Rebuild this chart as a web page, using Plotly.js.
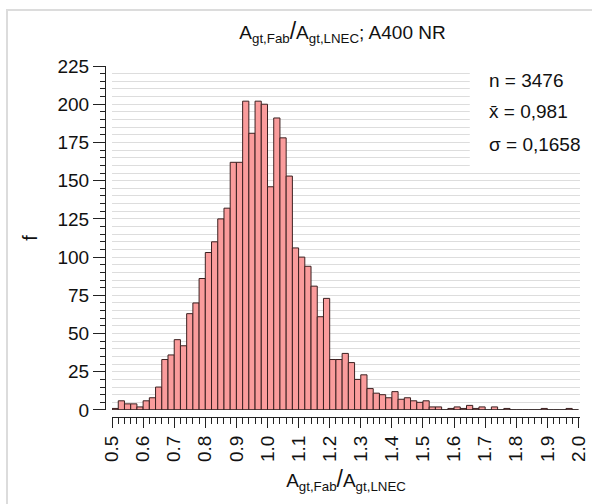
<!DOCTYPE html>
<html>
<head>
<meta charset="utf-8">
<script src="https://cdn.plot.ly/plotly-3.0.1.min.js"></script>
<style>
  html, body { margin: 0; padding: 0; background: #ffffff; }
  #chart { width: 592px; height: 504px; }
  #frame { position: absolute; left: 6px; top: 9px; width: 600px; height: 510px;
           border-left: 2px solid #dcdcdc; border-top: 2px solid #dcdcdc; pointer-events: none; }
</style>
</head>
<body>
<div id="chart"></div>
<div id="frame"></div>
<script>
// ---- data ----
const binStart = 0.5;
const binWidth = 0.02;
const counts = [
  1, 6, 4, 4, 2, 6, 8, 15, 33, 36,
  46, 42, 63, 70, 86, 103, 110, 125, 132, 162,
  162, 202, 181, 202, 200, 146, 191, 178, 153, 106,
  100, 94, 81, 61, 73, 33, 33, 37, 31, 20,
  23, 14, 11, 10, 8, 12, 7, 8, 6, 5,
  6, 2, 2, 0, 1, 2, 1, 3, 1, 2,
  0, 2, 0, 1, 0, 0, 0, 0, 0, 1,
  0, 0, 0, 1, 0
];
const statLabels = ['n = 3476', 'x\u0304 = 0,981', '\u03c3 = 0,1658'];
const titleText = 'A<sub>gt,Fab</sub><span style="font-size:23px">/</span>A<sub>gt,LNEC</sub>; A400 NR';
const xTitleText = 'A<sub>gt,Fab</sub><span style="font-size:23px">/</span>A<sub>gt,LNEC</sub>';
const yTitleText = 'f';

const binCenters = counts.map((_, i) => binStart + binWidth * (i + 0.5));

const FONT = 'Liberation Sans, Arial, sans-serif';

const trace = {
  type: 'bar',
  x: binCenters,
  y: counts,
  width: binWidth,
  marker: { color: '#fa9c9c', line: { color: '#3b2020', width: 1 } },
  hoverinfo: 'skip'
};

const statY = [0.960, 0.869, 0.775];
const annotations = statLabels.map((t, i) => ({
  text: t, xref: 'paper', yref: 'paper', x: 0.804, y: statY[i],
  xanchor: 'left', yanchor: 'middle', showarrow: false,
  font: { family: FONT, size: 19, color: '#111' }
}));

const layout = {
  width: 592, height: 504,
  margin: { l: 105, r: 12, t: 66, b: 87, pad: 0 },
  paper_bgcolor: '#ffffff', plot_bgcolor: '#ffffff',
  showlegend: false,
  bargap: 0,
  font: { family: FONT, size: 19, color: '#111' },
  title: { text: titleText, xref: 'paper', x: 0.5, xanchor: 'center',
           yref: 'container', y: 0.935, yanchor: 'middle',
           font: { family: FONT, size: 19, color: '#111' } },
  xaxis: {
    domain: [0.0148, 1], range: [0.5, 2.005], anchor: 'free', position: 0,
    tick0: 0.5, dtick: 0.1, tickformat: '.1f', tickangle: -90,
    ticks: 'outside', ticklen: 10, tickwidth: 1, tickcolor: '#222',
    showline: true, linecolor: '#222', linewidth: 1,
    showgrid: false, zeroline: false,
    minor: { dtick: 0.02, ticks: 'outside', ticklen: 6, tickwidth: 1, tickcolor: '#222', showgrid: false },
    tickfont: { family: FONT, size: 19, color: '#111' },
    title: { text: xTitleText, standoff: 12, font: { family: FONT, size: 19, color: '#111' } }
  },
  yaxis: {
    domain: [0.02, 1], range: [0, 225], anchor: 'free', position: 0,
    tick0: 0, dtick: 25, ticks: 'outside', ticklen: 12, tickwidth: 1, tickcolor: '#222',
    showline: true, linecolor: '#222', linewidth: 1,
    showgrid: true, gridcolor: '#dddddd', gridwidth: 1, zeroline: false,
    minor: { dtick: 5, ticks: 'outside', ticklen: 5, tickwidth: 1, tickcolor: '#222',
             showgrid: true, gridcolor: '#dddddd', gridwidth: 1 },
    tickfont: { family: FONT, size: 19, color: '#111' },
    title: { text: yTitleText, standoff: 13, font: { family: FONT, size: 20, color: '#111' } }
  },
  shapes: [
    { type: 'rect', xref: 'paper', yref: 'paper', x0: 0.768, x1: 1.03, y0: 0.712, y1: 1.012,
      fillcolor: '#ffffff', line: { width: 0 }, layer: 'above' },
    { type: 'line', xref: 'x', yref: 'y', x0: binStart, x1: binStart + binWidth * counts.length, y0: 0, y1: 0,
      line: { color: '#222', width: 1.2 }, layer: 'above' }
  ],
  annotations: annotations
};

Plotly.newPlot('chart', [trace], layout, { staticPlot: true, displayModeBar: false });
</script>
</body>
</html>
